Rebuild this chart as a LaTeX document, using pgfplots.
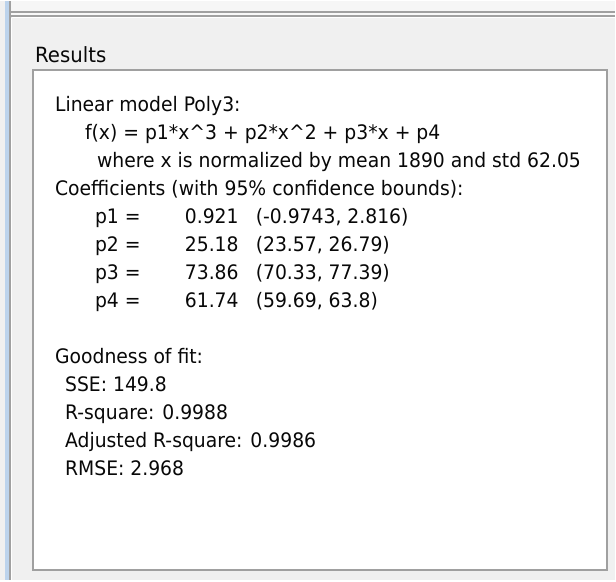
\documentclass[border=0pt]{standalone}
\usepackage{pgfplots}
\pgfplotsset{compat=1.18}
\usepackage{fontspec}
\setmainfont[FakeStretch=0.94]{DejaVu Sans}
\definecolor{panelbg}{HTML}{F0F0F0}
\definecolor{topbg}{HTML}{F6F6F6}
\definecolor{frame}{HTML}{A0A0A0}
\definecolor{frameLight}{HTML}{FFFFFF}
\definecolor{bluestripe}{HTML}{BCD3EC}
\definecolor{txt}{HTML}{080808}
\begin{document}
\begin{tikzpicture}
\begin{axis}[
  width=616pt, height=580pt, scale only axis,
  xmin=0, xmax=616, ymin=0, ymax=580, y dir=reverse,
  hide axis, clip=false,
  /pgf/number format/assume math mode=true,
]
\addplot[draw=none, forget plot] coordinates {(0,0) (616,580)};
% backgrounds
\fill[panelbg] (0,0) rectangle (616,580);
\fill[topbg] (11,0) rectangle (616,10);
\fill[bluestripe] (5,0) rectangle (9,580);
% outer frame
\draw[frame, line width=2pt] (10,0) -- (10,580);
\draw[frameLight, line width=1pt] (11.5,17) -- (11.5,580);
\draw[frame, line width=2pt] (9,11) -- (616,11);
\fill[frameLight!50!panelbg] (11,12) rectangle (616,14);
\draw[frame, line width=2pt] (11,15) -- (616,15);
\draw[frameLight, line width=1pt] (12,16.5) -- (616,16.5);
% inner result box
\fill[white] (33,69) rectangle (608,569.5);
\draw[frame, line width=2pt] (33,69) rectangle (608,569.5);
% title
\node[anchor=base west, inner sep=0pt, font=\fontsize{21}{25}\selectfont, text=txt] at (35,62) {Results};
% text
\begin{scope}[every node/.style={anchor=base west, inner sep=0pt, font=\fontsize{20}{24}\selectfont, text=txt}]
\node at (55,111) {Linear model Poly3:};
\node at (85,139) {f(x) = p1*x\textasciicircum3 + p2*x\textasciicircum2 + p3*x + p4};
\node at (97,167) {where x is normalized by mean 1890 and std 62.05};
\node at (55,195) {Coefficients (with 95\% confidence bounds):};
\node at (95,223) {p1 =};
\node at (185,223) {0.921};
\node at (256,223) {(-0.9743, 2.816)};
\node at (95,251) {p2 =};
\node at (185,251) {25.18};
\node at (256,251) {(23.57, 26.79)};
\node at (95,279) {p3 =};
\node at (185,279) {73.86};
\node at (256,279) {(70.33, 77.39)};
\node at (95,307) {p4 =};
\node at (185,307) {61.74};
\node at (256,307) {(59.69, 63.8)};
\node at (55,363) {Goodness of fit:};
\node at (65,391) {SSE: 149.8};
\node at (65,419) {R-square: 0.9988};
\node at (65,447) {Adjusted R-square: 0.9986};
\node at (65,475) {RMSE: 2.968};
\end{scope}
\end{axis}
\end{tikzpicture}
\end{document}
